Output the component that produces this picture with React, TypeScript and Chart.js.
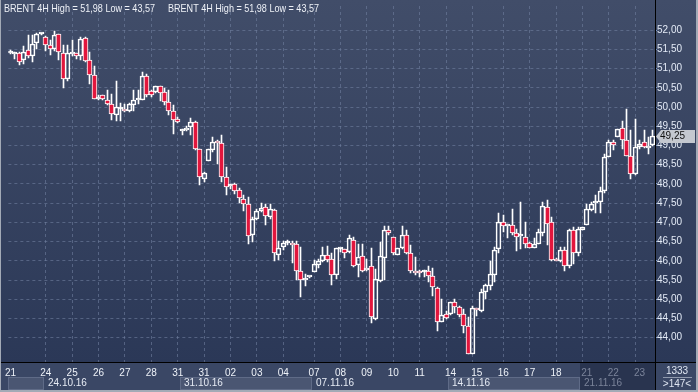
import React, { useEffect, useRef } from 'react';
import { Chart, registerables } from 'chart.js';

Chart.register(...registerables);

// ---- data (BRENT 4H candles) ----
const OPEN = [
  51.41, 51.38, 51.40, 51.21, 51.47, 51.32, 51.67, 51.90, 51.83, 51.60,
  51.51, 51.90, 51.41, 50.74, 51.39, 51.40, 51.32, 51.80, 51.22, 50.82,
  50.22, 50.30, 50.19, 50.09, 49.80, 49.95, 49.96, 49.90, 50.06, 50.18,
  50.19, 50.80, 50.41, 50.39, 50.54, 50.39, 50.14, 49.90, 49.69, 49.38,
  49.39, 49.47, 49.62, 48.91, 48.14, 48.60, 48.87, 49.11, 49.06, 48.17,
  47.95, 47.99, 47.84, 47.62, 47.48, 46.66, 47.08, 47.29, 47.41, 47.15,
  47.33, 46.16, 46.35, 46.45, 46.46, 46.43, 45.74, 45.50, 45.57, 45.72,
  45.88, 46.00, 46.15, 46.04, 45.63, 46.30, 46.30, 46.23, 46.55, 45.89,
  46.13, 45.76, 45.87, 44.48, 45.48, 46.08, 46.81, 46.61, 46.16, 46.32,
  46.66, 46.19, 45.74, 45.69, 45.70, 45.74, 45.61, 45.29, 44.42, 44.61,
  44.61, 44.93, 44.80, 44.61, 44.31, 43.58, 44.76, 44.70, 45.18, 45.35,
  45.63, 46.30, 47.02, 46.91, 46.94, 46.72, 46.64, 46.63, 46.46, 46.34,
  46.44, 46.72, 47.41, 47.00, 46.05, 46.00, 46.27, 45.86, 46.79, 46.21,
  46.80, 46.94, 47.31, 47.51, 47.53, 47.81, 48.70, 49.09, 49.23, 49.45,
  49.15, 48.72, 48.25, 48.96, 49.09, 48.94, 49.00,
];
const HIGH = [
  51.49, 51.43, 51.43, 51.58, 51.88, 51.86, 51.93, 51.93, 51.84, 51.73,
  51.98, 51.91, 51.60, 51.60, 51.73, 51.41, 51.82, 51.82, 51.43, 51.06,
  50.31, 50.32, 50.45, 50.35, 50.68, 50.10, 50.07, 50.10, 50.43, 50.43,
  50.90, 50.87, 50.45, 50.55, 50.55, 50.50, 50.45, 50.05, 49.73, 49.43,
  49.50, 49.72, 49.64, 48.92, 48.30, 48.92, 49.22, 49.15, 49.26, 48.45,
  48.00, 48.02, 47.89, 47.71, 47.66, 47.15, 47.36, 47.51, 47.47, 47.47,
  47.34, 46.51, 46.51, 46.53, 46.51, 46.51, 46.36, 45.66, 45.59, 46.03,
  46.05, 46.36, 46.38, 46.19, 46.32, 46.34, 46.31, 46.66, 46.62, 46.44,
  46.44, 46.04, 46.33, 45.78, 46.50, 46.91, 46.91, 46.62, 46.34, 46.90,
  46.79, 46.42, 46.10, 45.76, 45.76, 45.86, 45.82, 45.31, 45.00, 44.70,
  44.93, 45.00, 44.82, 44.74, 44.55, 44.82, 44.78, 45.27, 45.40, 46.00,
  46.36, 47.24, 47.20, 46.97, 47.36, 46.84, 47.54, 47.02, 46.49, 46.60,
  46.83, 47.54, 47.58, 47.13, 46.08, 46.36, 46.36, 46.83, 46.87, 46.87,
  46.88, 47.47, 47.54, 47.70, 47.91, 48.79, 49.15, 49.15, 49.43, 49.64,
  49.94, 49.39, 49.69, 49.13, 49.40, 49.22, 49.39,
];
const LOW = [
  51.37, 51.26, 51.09, 51.13, 51.27, 51.17, 51.52, 51.88, 51.46, 51.35,
  51.46, 51.22, 50.49, 50.68, 51.32, 51.26, 51.23, 51.16, 50.59, 50.20,
  50.19, 50.18, 50.05, 49.67, 49.64, 49.64, 49.87, 49.87, 49.90, 50.07,
  50.17, 50.26, 50.26, 50.37, 50.15, 50.05, 49.80, 49.30, 49.58, 49.28,
  49.37, 49.28, 48.89, 47.98, 48.06, 48.59, 48.83, 48.52, 48.04, 47.70,
  47.87, 47.75, 47.51, 47.30, 46.44, 46.50, 47.05, 47.27, 46.93, 47.10,
  45.99, 46.03, 46.27, 46.40, 45.93, 45.49, 45.06, 45.35, 45.56, 45.70,
  45.82, 45.97, 45.97, 45.38, 45.53, 46.23, 46.08, 46.20, 45.85, 45.57,
  45.72, 45.73, 44.37, 44.45, 45.45, 45.50, 46.68, 46.15, 46.14, 46.30,
  46.17, 45.68, 45.64, 45.57, 45.57, 45.45, 45.08, 44.18, 44.40, 44.48,
  44.60, 44.64, 44.54, 44.12, 43.57, 43.57, 44.57, 44.68, 45.00, 45.25,
  45.45, 46.19, 46.76, 46.60, 46.66, 46.25, 46.30, 46.33, 46.32, 46.33,
  46.43, 46.64, 46.42, 45.99, 45.99, 45.96, 45.73, 45.80, 45.91, 46.12,
  46.79, 46.94, 47.30, 47.25, 47.24, 47.77, 48.69, 48.89, 49.23, 48.91,
  48.72, 48.13, 48.23, 48.92, 48.93, 48.79, 48.99,
];
const CLOSE = [
  51.43, 51.40, 51.18, 51.44, 51.32, 51.64, 51.90, 51.91, 51.60, 51.52,
  51.88, 51.43, 50.74, 51.41, 51.42, 51.33, 51.78, 51.20, 50.82, 50.22,
  50.26, 50.20, 50.09, 49.82, 49.99, 49.96, 49.89, 50.09, 50.18, 50.20,
  50.80, 50.30, 50.30, 50.54, 50.36, 50.14, 49.90, 49.67, 49.60, 49.40,
  49.46, 49.60, 48.90, 48.17, 48.29, 48.91, 49.09, 49.06, 48.17, 47.91,
  47.97, 47.82, 47.64, 47.48, 46.64, 47.08, 47.30, 47.38, 47.17, 47.34,
  46.20, 46.33, 46.47, 46.46, 46.42, 45.74, 45.50, 45.53, 45.59, 45.92,
  46.00, 46.15, 46.03, 45.62, 46.32, 46.31, 46.21, 46.59, 45.87, 46.10,
  45.74, 45.82, 44.54, 45.52, 46.13, 46.79, 46.73, 46.19, 46.33, 46.66,
  46.19, 45.74, 45.67, 45.68, 45.71, 45.61, 45.31, 44.42, 44.59, 44.51,
  44.93, 44.81, 44.58, 44.31, 43.58, 44.78, 44.71, 45.18, 45.36, 45.65,
  46.27, 47.02, 46.91, 46.96, 46.73, 46.63, 46.66, 46.44, 46.32, 46.44,
  46.74, 47.42, 46.97, 46.02, 45.99, 46.29, 45.86, 46.80, 46.21, 46.83,
  46.87, 47.36, 47.48, 47.54, 47.81, 48.70, 49.09, 49.00, 49.43, 49.15,
  48.72, 48.25, 48.96, 49.03, 48.96, 48.99, 49.25,
];

// x-axis day labels (bar index -> text)
const LABEL_INDEX = [0, 8, 14, 20, 26, 32, 38, 44, 50, 56, 62, 69, 75, 81, 87, 93, 100, 106, 112, 118, 124, 131, 137, 143];
const LABEL_TEXT = ['21', '24', '25', '26', '27', '28', '31', '31', '02', '03', '04', '07', '08', '09', '10', '11', '14', '15', '16', '17', '18', '21', '22', '23'];
// vertical grid lines (bar index)
const GRID_INDEX = [8, 14, 20, 26, 32, 38, 44, 50, 56, 62, 69, 75, 81, 87, 93, 99, 105, 112, 118, 124, 130, 136, 142];
// week strip
const WEEK_START = [0, 8, 39, 69, 100, 130];
const WEEK_TEXT = ['', '24.10.16', '31.10.16', '07.11.16', '14.11.16', '21.11.16'];
const DIM_FROM = 130;
// y-axis ticks
const Y_TICKS = [44, 44.5, 45, 45.5, 46, 46.5, 47, 47.5, 48, 48.5, 49, 49.5, 50, 50.5, 51, 51.5, 52];
const Y_MIN = 43.368;
const Y_MAX = 52.627;

const CATEGORIES = CLOSE.map((_, i) => String(i));

const FONT = '"Liberation Sans", Arial, sans-serif';
const RED = '#e2163d';
const GRID = 'rgba(112,127,158,0.6)';

const fmt = (v: number) => v.toFixed(2).replace('.', ',');

const drawNarrow = (ctx: CanvasRenderingContext2D, text: string, x: number, y: number, w: number) => {
  const m = ctx.measureText(text).width;
  const k = m > 0 ? w / m : 1;
  ctx.save();
  ctx.translate(x, y);
  ctx.scale(k, 1);
  ctx.fillText(text, 0, 0);
  ctx.restore();
};

// snap the library-computed bar geometry to whole pixels so candles are crisp
const snap = {
  id: 'snap',
  beforeDatasetsDraw(chart: any) {
    chart.data.datasets.forEach((_: any, di: number) => {
      const meta = chart.getDatasetMeta(di);
      meta.data.forEach((el: any) => {
        el.x = Math.floor(el.x) + 0.5;
        el.y = Math.round(el.y);
        el.base = Math.round(el.base);
        el.height = el.base - el.y;
      });
    });
  },
};

const decor = {
  id: 'decor',
  beforeDraw(chart: any) {
    const { ctx, width, height, chartArea, scales } = chart;
    const x = scales.x;
    const bottom = chartArea.bottom;
    ctx.save();
    const g = ctx.createLinearGradient(0, 0, 0, bottom);
    g.addColorStop(0, '#414d69');
    g.addColorStop(1, '#2b3857');
    ctx.fillStyle = g;
    ctx.fillRect(0, 0, width, bottom);
    ctx.fillStyle = '#3a4765';
    ctx.fillRect(0, bottom, width, height - bottom);

    const cw = x.getPixelForValue(1) - x.getPixelForValue(0);
    const stripTop = 377;
    const stripBot = 390;
    for (let k = 0; k < WEEK_START.length; k++) {
      const l = Math.max(6, Math.round(x.getPixelForValue(WEEK_START[k]) - cw / 2));
      const r = k + 1 < WEEK_START.length ? Math.round(x.getPixelForValue(WEEK_START[k + 1]) - cw / 2) : Math.round(chartArea.right);
      const last = k === WEEK_START.length - 1;
      if (last) {
        ctx.fillStyle = '#29344f';
        ctx.fillRect(l, bottom + 1, r - l, height - bottom - 2);
      } else if (k % 2 === 0) {
        ctx.fillStyle = '#4a5672';
        ctx.fillRect(l, stripTop, r - l, stripBot - stripTop);
        ctx.strokeStyle = '#5f6b87';
        ctx.lineWidth = 1;
        ctx.strokeRect(l + 0.5, stripTop + 0.5, r - l - 1, stripBot - stripTop - 1);
      }
      if (WEEK_TEXT[k]) {
        ctx.fillStyle = last ? '#7b849a' : '#e6ebf4';
        ctx.font = '10px ' + FONT;
        ctx.textBaseline = 'middle';
        ctx.textAlign = 'left';
        ctx.fillText(WEEK_TEXT[k], l + 4, 383.5);
      }
    }
    ctx.restore();
  },
  afterDraw(chart: any) {
    const { ctx, width, height, chartArea, scales } = chart;
    const y = scales.y;
    const right = Math.round(chartArea.right);
    const bottom = Math.round(chartArea.bottom);
    ctx.save();
    // separators
    ctx.fillStyle = '#000000';
    ctx.fillRect(right, 0, 1, height);
    ctx.fillRect(0, bottom, width, 1);
    // frame
    ctx.fillStyle = '#a3aab6';
    ctx.fillRect(0, 0, 1, height);
    ctx.fillRect(width - 2, 0, 2, height);
    ctx.fillRect(0, height - 2, width, 2);

    // title
    const hi = fmt(Math.max(...HIGH));
    const lo = fmt(Math.min(...LOW));
    const title = `BRENT 4H High = ${hi} Low = ${lo}`;
    ctx.fillStyle = '#eef1f7';
    ctx.font = '11px ' + FONT;
    ctx.textBaseline = 'middle';
    ctx.textAlign = 'left';
    drawNarrow(ctx, title, 4, 9, 151);
    drawNarrow(ctx, title, 168, 9, 151);

    // last price tag
    const last = CLOSE[CLOSE.length - 1];
    const py = Math.round(y.getPixelForValue(last)) + 0.5;
    ctx.fillStyle = '#c4c8d0';
    ctx.beginPath();
    ctx.moveTo(right + 1, py);
    ctx.lineTo(right + 6, py - 6.5);
    ctx.lineTo(695, py - 6.5);
    ctx.lineTo(695, py + 6.5);
    ctx.lineTo(right + 6, py + 6.5);
    ctx.closePath();
    ctx.fill();
    ctx.fillStyle = '#111111';
    ctx.font = '10px ' + FONT;
    ctx.fillText(fmt(last), right + 5, py);

    // corner box
    ctx.fillStyle = '#dfe6f2';
    ctx.textAlign = 'center';
    ctx.font = '10px ' + FONT;
    ctx.fillText('1333', 677, 371);
    ctx.fillText('>' + CLOSE.length + '<', 677, 384);
    ctx.fillStyle = '#8f99ad';
    ctx.fillRect(663, 377, 29, 1);
    ctx.restore();
  },
};

export default function App() {
  const ref = useRef<HTMLCanvasElement | null>(null);
  useEffect(() => {
    if (!ref.current) return;
    const bodies = OPEN.map((o, i) => [Math.min(o, CLOSE[i]), Math.max(o, CLOSE[i])]);
    const upper = OPEN.map((o, i) => {
      const top = Math.max(o, CLOSE[i]);
      return [top, Math.max(top, HIGH[i])];
    });
    const lower = OPEN.map((o, i) => {
      const bot = Math.min(o, CLOSE[i]);
      return [Math.min(bot, LOW[i]), bot];
    });
    const chart = new Chart(ref.current, {
      type: 'bar',
      data: {
        labels: CATEGORIES,
        datasets: [
          {
            label: 'body',
            data: bodies as any,
            backgroundColor: OPEN.map((o, i) => (CLOSE[i] < o ? RED : 'rgba(0,0,0,0)')),
            borderColor: '#ffffff',
            borderWidth: 1,
            borderSkipped: false,
            barThickness: 5,
            minBarLength: 2,
            grouped: false,
            order: 0,
          } as any,
          {
            label: 'upper',
            data: upper as any,
            backgroundColor: '#ffffff',
            borderWidth: 0,
            barThickness: 1,
            grouped: false,
            order: 1,
          } as any,
          {
            label: 'lower',
            data: lower as any,
            backgroundColor: '#ffffff',
            borderWidth: 0,
            barThickness: 1,
            grouped: false,
            order: 1,
          } as any,
        ],
      },
      options: {
        responsive: false,
        animation: false,
        devicePixelRatio: 1,
        layout: { padding: { left: 1, top: 0, right: 0, bottom: 0 } },
        plugins: { legend: { display: false }, tooltip: { enabled: false }, title: { display: false } },
        scales: {
          x: {
            type: 'category',
            offset: true,
            afterFit: (s: any) => { s.height = 30; },
            ticks: {
              autoSkip: false,
              maxRotation: 0,
              minRotation: 0,
              padding: 5,
              font: { family: FONT, size: 10 },
              color: (c: any) => (c.index >= DIM_FROM ? '#7b849a' : '#eef2f8'),
              callback: (_v: any, i: number) => {
                const k = LABEL_INDEX.indexOf(i);
                return k >= 0 ? LABEL_TEXT[k] : '';
              },
            },
            grid: {
              offset: false,
              drawTicks: false,
              lineWidth: 1,
              color: (c: any) => (GRID_INDEX.includes(c.index) ? GRID : 'rgba(0,0,0,0)'),
            },
            border: { display: false, dash: [3, 3] },
          },
          y: {
            type: 'linear',
            position: 'right',
            min: Y_MIN,
            max: Y_MAX,
            afterFit: (s: any) => { s.width = 43; },
            afterBuildTicks: (s: any) => { s.ticks = Y_TICKS.map((v) => ({ value: v })); },
            ticks: {
              padding: 0,
              crossAlign: 'near',
              font: { family: FONT, size: 10 },
              color: '#e3eaf6',
              callback: (v: any) => fmt(Number(v)),
            },
            grid: {
              color: GRID,
              lineWidth: 1,
              drawTicks: true,
              tickLength: 2,
              tickColor: '#7d9cc9',
              tickBorderDash: [],
            },
            border: { display: false, dash: [3, 3] },
          },
        },
      } as any,
      plugins: [snap, decor],
    });
    return () => chart.destroy();
  }, []);
  return (
    <div style={{ position: 'fixed', left: 0, top: 0, width: 698, height: 392 }}>
      <canvas ref={ref} width={698} height={392} style={{ display: 'block', width: 698, height: 392 }} />
    </div>
  );
}
